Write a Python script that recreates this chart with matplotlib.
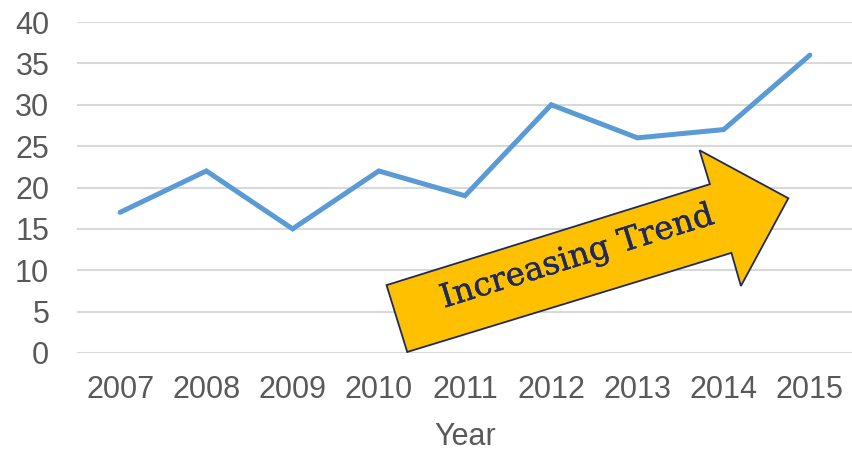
import numpy as np
import matplotlib
matplotlib.use("Agg")
import matplotlib.pyplot as plt
import matplotlib.patheffects as pe
from matplotlib.patches import Polygon

# data
years = ["2007", "2008", "2009", "2010", "2011", "2012", "2013", "2014", "2015"]
values = [17, 22, 15, 22, 19, 30, 26, 27, 36]
y_ticks = [0, 5, 10, 15, 20, 25, 30, 35, 40]
arrow_label = "Increasing Trend"

# arrow outline (data coords: category index, value)
arrow_x = [3.33, 3.09, 6.84, 6.72, 7.75, 7.20, 7.09]
arrow_y = [0.12, 8.2, 20.4, 24.5, 18.7, 8.1, 12.1]

plt.rcParams['font.family'] = ['Liberation Sans', 'DejaVu Sans']
grey = "#595959"
navy = "#1F2A5C"

fig = plt.figure(figsize=(8.53, 4.53), dpi=100)
ax = fig.add_axes([77 / 853, 1 - 353 / 453, 1 - 77 / 853, 331 / 453])

x = np.arange(len(years))
ax.plot(x, values, color="#5B9BD5", lw=3.6, solid_capstyle="round",
        solid_joinstyle="miter", zorder=3)

ax.set_xlim(-0.5, 8.5)
ax.set_ylim(0, 40)
ax.set_yticks(y_ticks)
ax.set_xticks(x)
ax.set_xticklabels(years)
ax.yaxis.grid(True, color="#D9D9D9", lw=1.5)
ax.set_axisbelow(True)
for s in ax.spines.values():
    s.set_visible(False)
ax.tick_params(axis="both", length=0, labelsize=22, labelcolor=grey)
ax.tick_params(axis="y", pad=20)
ax.tick_params(axis="x", pad=16)
ax.set_xlabel("Year", fontsize=22, color=grey, labelpad=12)

# trend arrow with label
arrow = Polygon(np.column_stack([arrow_x, arrow_y]), closed=True,
                facecolor="#FFC000", edgecolor=navy, lw=1.3,
                zorder=4, clip_on=False)
ax.add_patch(arrow)
ax.text(5.3, 11.6, arrow_label, rotation=17.3, rotation_mode="anchor",
        ha="center", va="center", fontsize=23.5, color=navy,
        family="DejaVu Serif", zorder=5,
        path_effects=[pe.withStroke(linewidth=0.3, foreground=navy)])

fig.savefig("out.png", dpi=100)
